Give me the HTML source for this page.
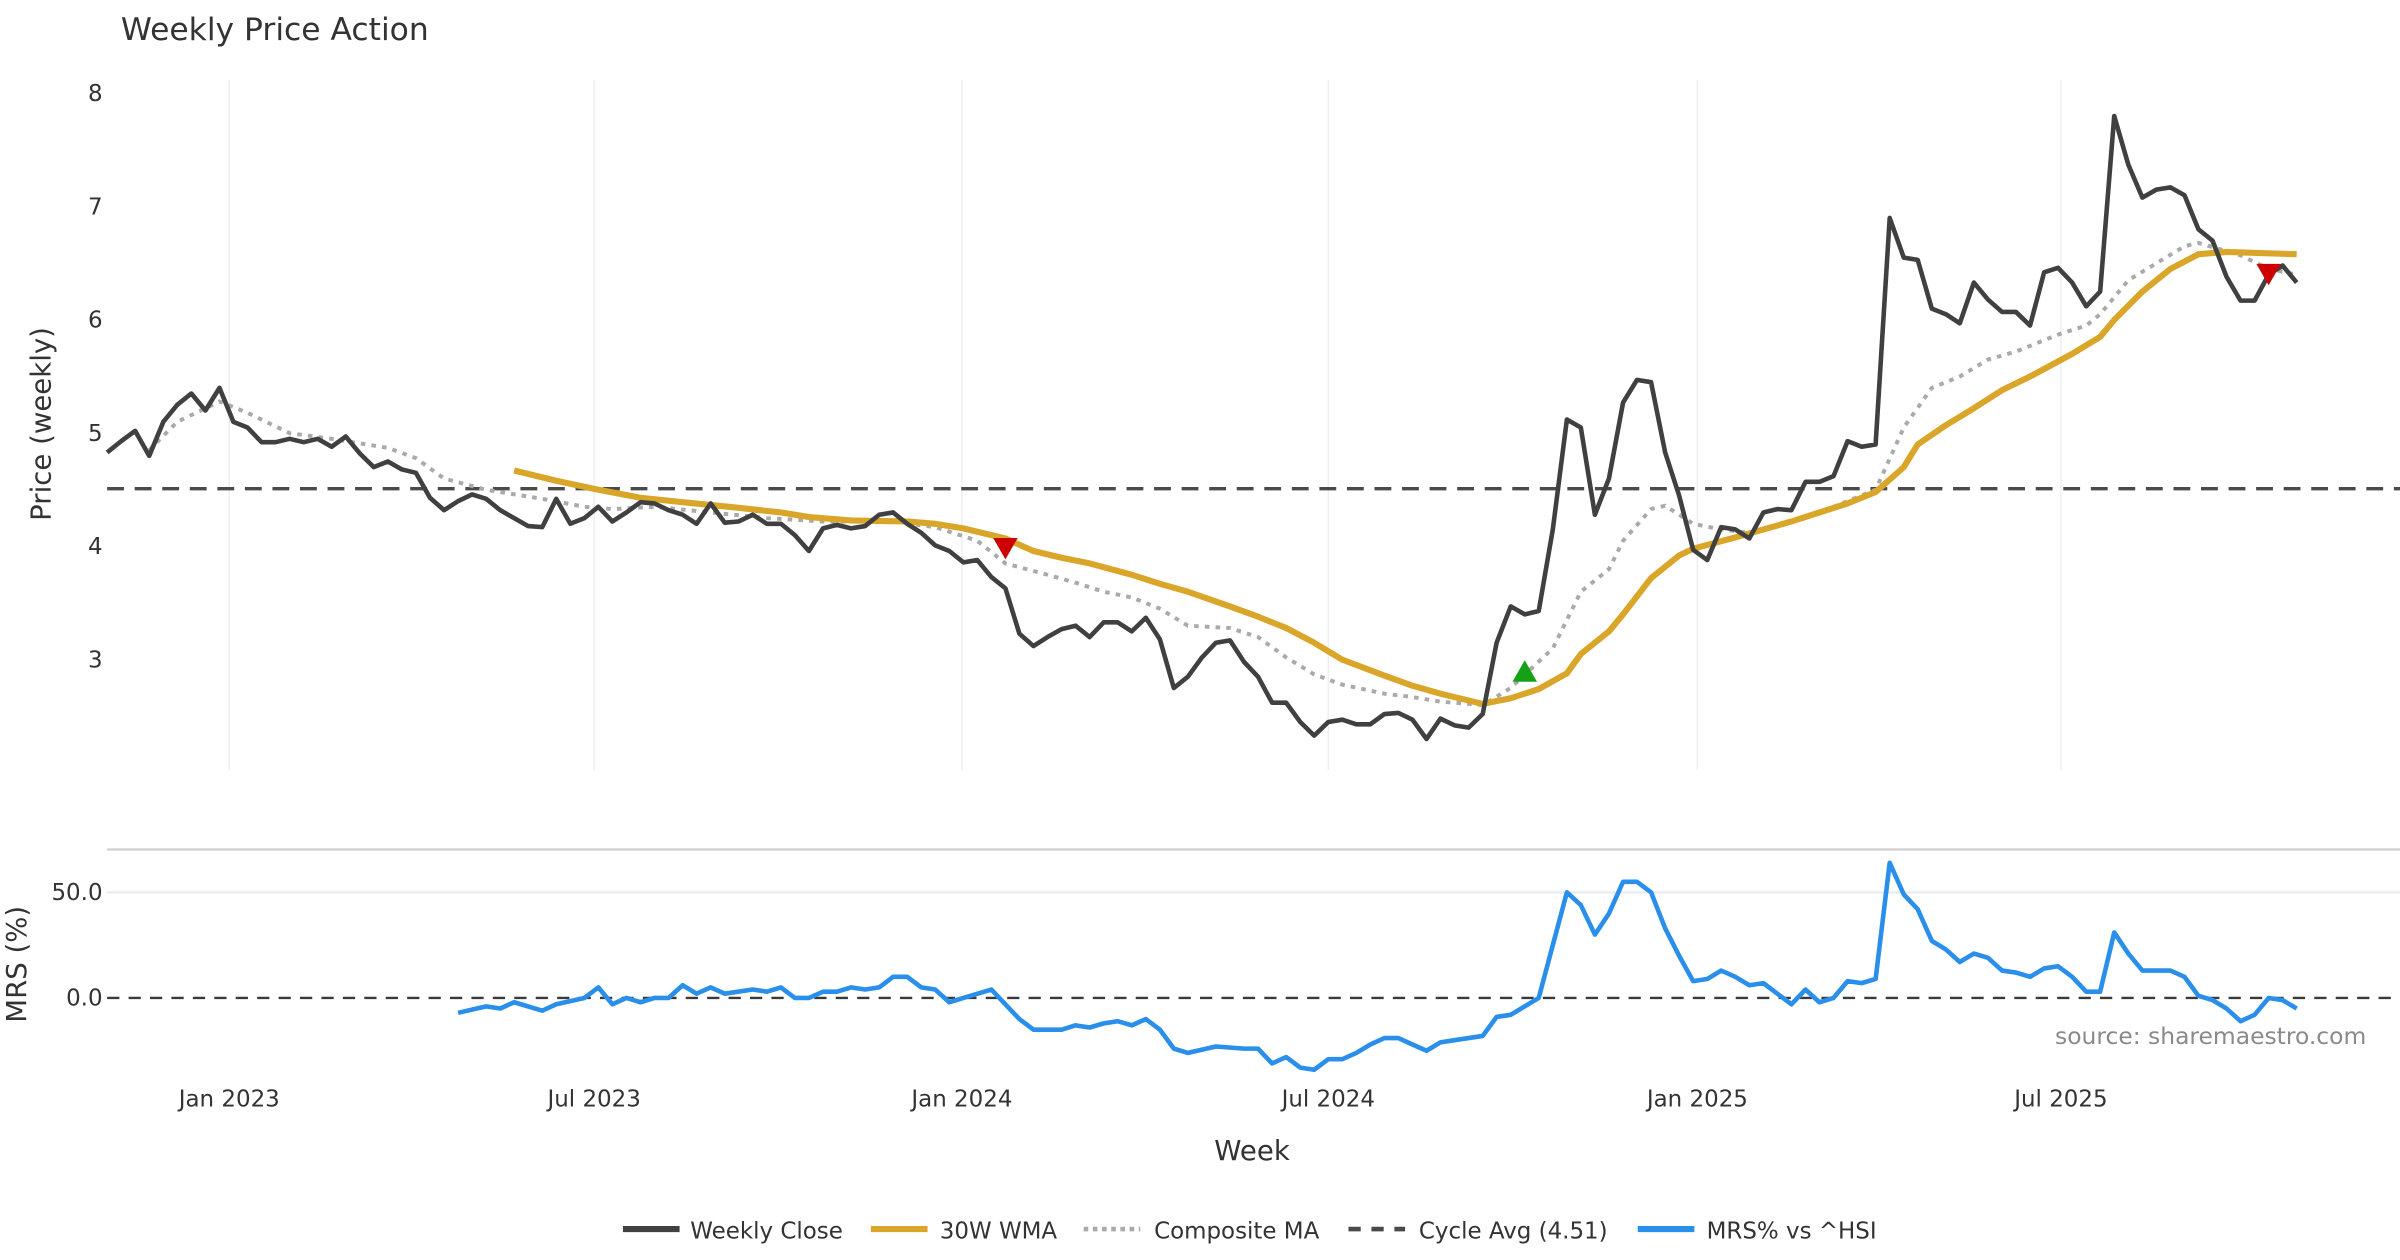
<!DOCTYPE html>
<html><head><meta charset="utf-8"><title>Weekly Price Action</title>
<style>
html,body{margin:0;padding:0;background:#fff;}
svg{display:block;font-family:"DejaVu Sans","Liberation Sans",sans-serif;}
</style></head>
<body>
<svg id="chart" width="2400" height="1260" viewBox="0 0 1568 823.2" xmlns="http://www.w3.org/2000/svg">
<rect x="0" y="0" width="1568" height="823.2" fill="#fff"/>
<text x="79" y="26" font-size="20.5" fill="#333">Weekly Price Action</text>
<g id="grid"></g>
<g id="series"></g>
<g id="axes"></g>
</svg>
<script>
// ---- data ----
const closeValues = [4.83,4.93,5.02,4.8,5.1,5.25,5.35,5.2,5.4,5.1,5.05,4.92,4.92,4.95,4.92,4.95,4.88,4.97,4.82,4.7,4.75,4.68,4.65,4.43,4.32,4.4,4.46,4.42,4.32,4.25,4.18,4.17,4.42,4.2,4.25,4.35,4.22,4.3,4.39,4.38,4.32,4.28,4.2,4.38,4.21,4.22,4.28,4.2,4.2,4.1,3.96,4.16,4.19,4.16,4.18,4.28,4.3,4.2,4.12,4.01,3.96,3.86,3.88,3.73,3.63,3.23,3.12,3.2,3.27,3.3,3.2,3.33,3.33,3.25,3.37,3.18,2.75,2.85,3.02,3.15,3.17,2.98,2.85,2.62,2.62,2.45,2.33,2.45,2.47,2.43,2.43,2.52,2.53,2.47,2.3,2.48,2.42,2.4,2.52,3.15,3.47,3.4,3.43,4.15,5.12,5.05,4.28,4.6,5.27,5.47,5.45,4.83,4.45,3.97,3.88,4.17,4.15,4.07,4.3,4.33,4.32,4.57,4.57,4.62,4.93,4.88,4.9,6.9,6.55,6.53,6.1,6.05,5.97,6.33,6.18,6.07,6.07,5.95,6.42,6.46,6.33,6.12,6.25,7.8,7.37,7.08,7.15,7.17,7.1,6.8,6.7,6.38,6.17,6.17,6.4,6.48,6.33];
const wmaWeeks = [29,32,35,38,41,45,48,50,53,57,59,61,64,66,68,70,73,75,77,80,82,84,86,88,91,93,95,98,100,102,104,105,107,108,110,112,113,116,118,120,122,124,126,128,129,131,133,135,137,140,142,143,145,147,149,151,156];
const wmaValues = [4.67,4.58,4.5,4.43,4.39,4.34,4.3,4.26,4.23,4.22,4.2,4.16,4.07,3.96,3.9,3.85,3.75,3.67,3.6,3.47,3.38,3.28,3.15,3.0,2.86,2.77,2.7,2.61,2.66,2.74,2.88,3.05,3.25,3.4,3.72,3.92,3.98,4.08,4.15,4.22,4.3,4.38,4.48,4.7,4.9,5.07,5.22,5.38,5.5,5.7,5.85,6.0,6.25,6.45,6.58,6.6,6.58];
const compWeeks = [3,5,8,10,13,16,20,22,24,27,31,34,36,39,43,47,51,56,59,62,64,67,69,71,73,75,77,80,82,84,86,88,91,93,95,98,100,103,105,107,108,110,111,113,115,117,119,121,123,126,128,130,132,134,136,139,141,142,144,146,148,149,152,154,156];
const compValues = [4.85,5.1,5.28,5.18,5.0,4.95,4.87,4.78,4.6,4.5,4.42,4.35,4.33,4.35,4.3,4.25,4.22,4.22,4.17,4.05,3.85,3.75,3.68,3.6,3.55,3.45,3.3,3.28,3.2,3.02,2.87,2.78,2.7,2.67,2.63,2.6,2.75,3.1,3.6,3.8,4.05,4.33,4.36,4.2,4.15,4.12,4.18,4.25,4.35,4.5,5.05,5.4,5.5,5.65,5.72,5.87,5.95,6.05,6.35,6.5,6.65,6.68,6.57,6.45,6.4];
const mrsWeeks = [25,27,28,29,31,32,34,35,36,37,38,39,40,41,42,43,44,46,47,48,49,50,51,52,53,54,55,56,57,58,59,60,61,63,65,66,68,69,70,71,72,73,74,75,76,77,79,81,82,83,84,85,86,87,88,89,90,91,92,93,94,95,96,98,99,100,102,103,104,105,106,107,108,109,110,111,112,113,114,115,116,117,118,119,120,121,122,123,124,125,126,127,128,129,130,131,132,133,134,135,136,137,138,139,140,141,142,143,144,145,146,147,148,149,150,151,152,153,154,155,156];
const mrsValues = [-7,-4,-5,-2,-6,-3,0,5,-3,0,-2,0,0,6,2,5,2,4,3,5,0,0,3,3,5,4,5,10,10,5,4,-2,0,4,-10,-15,-15,-13,-14,-12,-11,-13,-10,-15,-24,-26,-23,-24,-24,-31,-28,-33,-34,-29,-29,-26,-22,-19,-19,-22,-25,-21,-20,-18,-9,-8,0,25,50,44,30,40,55,55,50,33,20,8,9,13,10,6,7,2,-3,4,-2,0,8,7,9,64,49,42,27,23,17,21,19,13,12,10,14,15,10,3,3,31,21,13,13,13,10,1,-1,-5,-11,-8,0,-1,-5];
const cycleAvg = 4.51;
const signalWeeks = [64,101,154];
const signalValues = [3.98,2.9,6.4];
const signalTypes = ["sell","buy","sell"];
const priceTicks = [3,4,5,6,7,8];
const mrsTicks = [0,50];
const mrsTickLabels = ["0.0","50.0"];
const dateTickWeeks = [8.7,34.7,60.9,87.0,113.3,139.2];
const dateTickLabels = ["Jan 2023","Jul 2023","Jan 2024","Jul 2024","Jan 2025","Jul 2025"];

// ---- scales ----
const X0 = 70, XPW = 9.17;
const xS = w => X0 + w * XPW;
const yP = v => 61 + (8 - v) * 74;
const yM = v => 652 - v * 1.38;
const NS = "http://www.w3.org/2000/svg";
function mk(tag, attrs, parent, text){
  const e = document.createElementNS(NS, tag);
  for (const k in attrs) e.setAttribute(k, attrs[k]);
  if (text !== undefined) e.textContent = text;
  parent.appendChild(e);
  return e;
}
const grid = document.getElementById('grid');
const ser = document.getElementById('series');
const axes = document.getElementById('axes');

dateTickWeeks.forEach((w,i)=>{
  const l = mk('line',{x1:xS(w),x2:xS(w),y1:52,y2:503,stroke:'#eceff3','stroke-width':1},grid);
  
  
});
mrsTicks.forEach(v=>{
  if (v===0) return;
  const l = mk('line',{x1:70,x2:1568,y1:yM(v),y2:yM(v),stroke:'#e8ebf0','stroke-width':1.5},grid);
  
  
});
const sep = mk('line',{x1:70,x2:1568,y1:555,y2:555,stroke:'#cfcfcf','stroke-width':1.5},grid);



const cyc = mk('line',{x1:70,x2:1568,y1:yP(cycleAvg),y2:yP(cycleAvg),stroke:'#4a4a4a','stroke-width':2.2,'stroke-dasharray':'11 7'},ser);


const mz = mk('line',{x1:70,x2:1568,y1:yM(0),y2:yM(0),stroke:'#3a3a3a','stroke-width':1.5,'stroke-dasharray':'8 6'},ser);



function path(weeks, vals, yf){
  return weeks.map((w,i)=>(i?'L':'M')+xS(w).toFixed(1)+' '+yf(vals[i]).toFixed(1)).join(' ');
}
const closeWeeks = closeValues.map((_,i)=>i);
const comp = mk('path',{d:path(compWeeks,compValues,yP),fill:'none',stroke:'#aaaaaa','stroke-width':2.6,'stroke-dasharray':'3 4','stroke-linejoin':'round'},ser);


const wma = mk('path',{d:path(wmaWeeks,wmaValues,yP),fill:'none',stroke:'#d9a62a','stroke-width':4,'stroke-linejoin':'round'},ser);


const cl = mk('path',{d:path(closeWeeks,closeValues,yP),fill:'none',stroke:'#404040','stroke-width':3,'stroke-linejoin':'round'},ser);


const mrs = mk('path',{d:path(mrsWeeks,mrsValues,yM),fill:'none',stroke:'#2a8fea','stroke-width':3,'stroke-linejoin':'round'},ser);



signalWeeks.forEach((w,i)=>{
  const x = xS(w), y = yP(signalValues[i]);
  const pts = signalTypes[i]==='sell'
    ? `${x-8},${y-7} ${x+8},${y-7} ${x},${y+7}`
    : `${x-8},${y+7} ${x+8},${y+7} ${x},${y-7}`;
  const t = mk('polygon',{points:pts,fill:signalTypes[i]==='sell'?'#cc0000':'#16a016'},ser);
  
  
});

priceTicks.forEach(v=>{
  const t = mk('text',{x:67,y:yP(v)+5,'text-anchor':'end','font-size':15,fill:'#333'},axes,String(v));
  
  
});
mrsTicks.forEach((v,i)=>{
  const t = mk('text',{x:67,y:yM(v)+5,'text-anchor':'end','font-size':15,fill:'#333'},axes,mrsTickLabels[i]);
  
  
});
dateTickWeeks.forEach((w,i)=>{
  const t = mk('text',{x:xS(w),y:723,'text-anchor':'middle','font-size':15,fill:'#333'},axes,dateTickLabels[i]);
  
  
});
</script>
<script>
(function(){
  const svg = document.getElementById('chart');
  const NS = "http://www.w3.org/2000/svg";
  function t(attrs, txt){const e=document.createElementNS(NS,'text');for(const k in attrs)e.setAttribute(k,attrs[k]);e.textContent=txt;svg.appendChild(e);return e;}
  let e;
  e = t({x:0,y:0,transform:'translate(33,277) rotate(-90)','text-anchor':'middle','font-size':18,fill:'#333'},'Price (weekly)');
  
  
  e = t({x:0,y:0,transform:'translate(17,630) rotate(-90)','text-anchor':'middle','font-size':18,fill:'#333'},'MRS (%)');
  
  
  e = t({x:818,y:758,'text-anchor':'middle','font-size':18,fill:'#333'},'Week');
  
  
  e = t({x:1546,y:682,'text-anchor':'end','font-size':15.3,fill:'#8a8a8a'},'source: sharemaestro.com');
  
  
  const items = [
    {x:407,tx:451,label:'Weekly Close',stroke:'#404040',w:4,dash:''},
    {x:569,tx:614,label:'30W WMA',stroke:'#d9a62a',w:4,dash:''},
    {x:708,tx:754,label:'Composite MA',stroke:'#aaaaaa',w:3,dash:'3 3'},
    {x:881,tx:927,label:'Cycle Avg (4.51)',stroke:'#4a4a4a',w:3,dash:'8 7'},
    {x:1070,tx:1115,label:'MRS% vs ^HSI',stroke:'#2a8fea',w:4,dash:''}
  ];
  items.forEach(it=>{
    const g=document.createElementNS(NS,'g');
    
    
    const l=document.createElementNS(NS,'line');
    l.setAttribute('x1',it.x);l.setAttribute('x2',it.x+37);l.setAttribute('y1',803);l.setAttribute('y2',803);
    l.setAttribute('stroke',it.stroke);l.setAttribute('stroke-width',it.w);
    if(it.dash)l.setAttribute('stroke-dasharray',it.dash);
    
    
    g.appendChild(l);
    const tx=document.createElementNS(NS,'text');
    tx.setAttribute('x',it.tx);tx.setAttribute('y',809);tx.setAttribute('font-size',15);tx.setAttribute('fill','#333');
    tx.textContent=it.label;
    
    
    g.appendChild(tx);
    svg.appendChild(g);
  });
})();
</script>
</body></html>
